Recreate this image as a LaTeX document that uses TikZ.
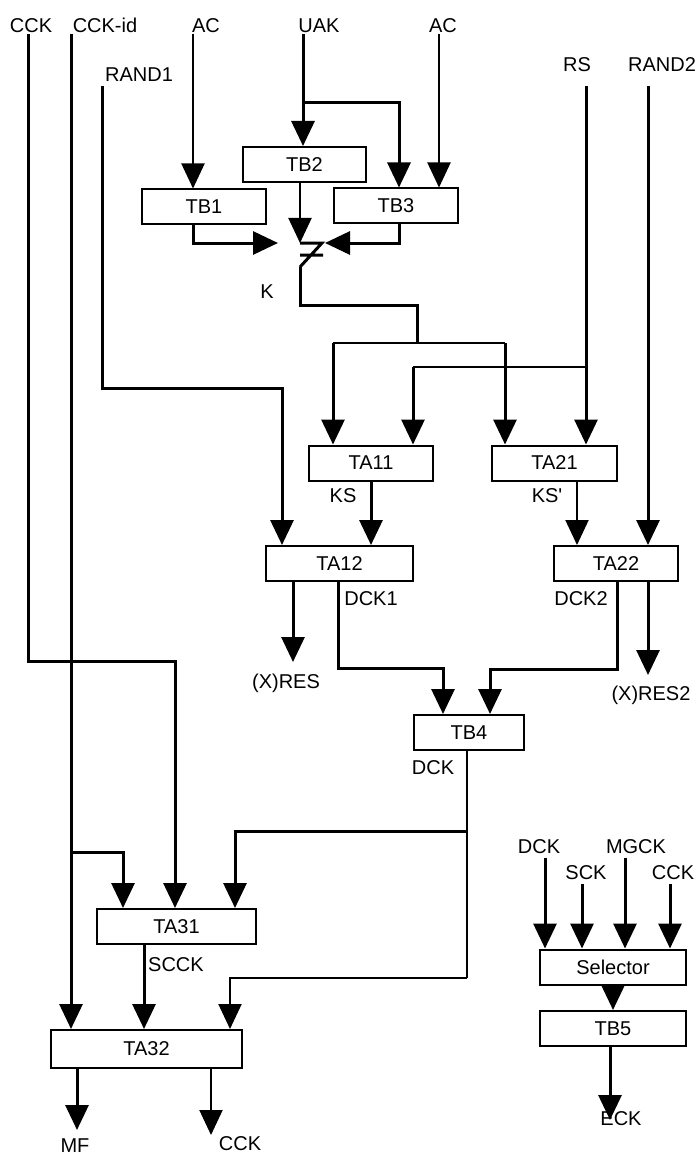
\documentclass[tikz,border=0pt]{standalone}
\usepackage{fontspec}
\setmainfont{Liberation Sans}
\usetikzlibrary{arrows.meta}
\begin{document}
\begin{tikzpicture}[x=0.5pt,y=-0.5pt,font=\fontsize{10}{12}\selectfont,
  blk/.style={draw,line width=1pt,inner sep=0pt,minimum height=17.5pt,minimum width=62pt},
  lbl/.style={inner sep=0pt,anchor=base},
  thk/.style={line width=1.5pt},
  thn/.style={line width=1pt},
  arr/.style={-{Triangle[length=12.5pt,width=11.5pt]}}]
  \useasboundingbox (0,0) rectangle (698,1155);
  % boxes
  \node[blk] (tb1) at (204,207) {TB1};
  \node[blk,minimum width=61.5pt] (tb2) at (304.5,164.5) {TB2};
  \node[blk] (tb3) at (396,206) {TB3};
  \node[blk] (ta11) at (371,463) {TA11};
  \node[blk,minimum width=62.5pt] (ta21) at (554.5,463) {TA21};
  \node[blk,minimum width=73.5pt] (ta12) at (339.5,563.5) {TA12};
  \node[blk] (ta22) at (616,563.5) {TA22};
  \node[blk,minimum width=55pt] (tb4) at (469,732.5) {TB4};
  \node[blk,minimum width=79.5pt] (ta31) at (176.5,926.5) {TA31};
  \node[blk,minimum width=95.5pt,minimum height=19pt] (ta32) at (146.5,1049) {TA32};
  \node[blk,minimum width=73pt] (sel) at (613,967) {Selector};
  \node[blk,minimum width=73pt] (tb5) at (613,1028.5) {TB5};
  % labels
  \node[lbl] (inCCK) at (31,33) {CCK};
  \node[lbl] (inCCKid) at (105,33) {CCK-id};
  \node[lbl] (inACa) at (206,33) {AC};
  \node[lbl] (inUAK) at (319,33) {UAK};
  \node[lbl] (inACb) at (443,33) {AC};
  \node[lbl] (inRAND1) at (139,82) {RAND1};
  \node[lbl] (inRS) at (577,72) {RS};
  \node[lbl] (inRAND2) at (662,72) {RAND2};
  \node[lbl] (lblK) at (267,298) {K};
  \node[lbl] (lblKS) at (343,502) {KS};
  \node[lbl] (lblKSp) at (547,502) {KS\textquotesingle};
  \node[lbl] (lblDCKa) at (371,605) {DCK1};
  \node[lbl] (lblDCKb) at (581,605) {DCK2};
  \node[lbl] (outRES) at (286,688) {(X)RES};
  \node[lbl] (outRESb) at (651,700) {(X)RES2};
  \node[lbl] (lblDCK) at (433,774) {DCK};
  \node[lbl] (lblSCCK) at (176,971) {SCCK};
  \node[lbl] (outMF) at (75,1152) {MF};
  \node[lbl] (outCCK) at (240,1150) {CCK};
  \node[lbl] (outECK) at (621,1125) {ECK};
  % inputs at the top
  \coordinate (cck0) at (28,34);    \coordinate (cckid0) at (71,34);
  \coordinate (rand10) at (102,86); \coordinate (acA0) at (193,34);
  \coordinate (uak0) at (303,34);   \coordinate (acB0) at (439,34);
  \coordinate (rs0) at (586,86);    \coordinate (rand20) at (648,86);
  \coordinate (cckbend) at (175,661);
  \draw[thk,arr] (cck0) |- (cckbend) -- (cckbend |- ta31.north);
  \draw[thk,arr] (cckid0) -- (cckid0 |- ta32.north);
  \coordinate (idtap) at (71,852); \coordinate (idbend) at (123,852);
  \draw[thk,arr] (idtap) -- (idbend) -- (idbend |- ta31.north);
  \coordinate (r1bend) at (282,388);
  \draw[thk,arr] (rand10) |- (r1bend) -- (r1bend |- ta12.north);
  \draw[thn,arr] (acA0) -- (acA0 |- tb1.north);
  \draw[thk,arr] (uak0) -- (uak0 |- tb2.north);
  \coordinate (uaktap) at (303,103); \coordinate (uakbend) at (399,103);
  \draw[thk,arr] (uaktap) -- (uakbend) -- (uakbend |- tb3.north);
  \draw[thn,arr] (acB0) -- (acB0 |- tb3.north);
  % key mixing
  \coordinate (mix) at (300,243); \coordinate (mixL) at (278,243);
  \coordinate (mixR) at (325,243); \coordinate (zbot) at (300,267);
  \draw[thk,arr] (tb1.south -| acA0) |- (mixL);
  \draw[thn,arr] (tb2.south -| mix) -- (mix);
  \draw[thk,arr] (tb3.south -| uakbend) |- (mixR);
  \draw[thk] (mix) -- ++(22,0) -- (zbot) (300,255) -- (323,255);
  \coordinate (kbus) at (417,343); \coordinate (kL) at (333,343); \coordinate (kR) at (505,343);
  \draw[thk] (zbot) -- ++(0,38) -| (kbus);
  \draw[thn] (kL) -- (kR);
  \draw[thk,arr] (kL) -- (kL |- ta11.north);
  \draw[thk,arr] (kR) -- (kR |- ta21.north);
  \draw[thk,arr] (rs0) -- (rs0 |- ta21.north);
  \coordinate (rstap) at (586,367); \coordinate (rsbend) at (413,367);
  \draw[thn] (rstap) -- (rsbend);
  \draw[thk,arr] (rsbend) -- (rsbend |- ta11.north);
  \draw[thk,arr] (rand20) -- (rand20 |- ta22.north);
  % second stage
  \draw[thk,arr] (ta11.south) -- (ta11.south |- ta12.north);
  \coordinate (ks2) at (577,480);
  \draw[thn,arr] (ks2 |- ta21.south) -- (ks2 |- ta22.north);
  \coordinate (res1) at (293,662); \coordinate (res2) at (648,675);
  \draw[thk,arr] (res1 |- ta12.south) -- (res1);
  \draw[thk,arr] (res2 |- ta22.south) -- (res2);
  \coordinate (d1) at (338,668); \coordinate (d1in) at (443,668);
  \coordinate (d2) at (617,669); \coordinate (d2in) at (490,669);
  \draw[thk,arr] (d1 |- ta12.south) -- (d1) -- (d1in) -- (d1in |- tb4.north);
  \draw[thk,arr] (d2 |- ta22.south) -- (d2) -- (d2in) -- (d2in |- tb4.north);
  % DCK to TA31 / TA32
  \coordinate (dtap) at (467,831); \coordinate (dend) at (467,978);
  \coordinate (d31) at (235,831); \coordinate (d32) at (230,978);
  \draw[thn] (tb4.south -| dtap) -- (dend);
  \draw[thk,arr] (dtap) -- (d31) -- (d31 |- ta31.north);
  \draw[thn,arr] (dend) -- (d32) -- (d32 |- ta32.north);
  \coordinate (sc) at (144,944);
  \draw[thk,arr] (sc |- ta31.south) -- (sc |- ta32.north);
  \coordinate (mf) at (77,1130); \coordinate (cckout) at (211,1135);
  \draw[thk,arr] (mf |- ta32.south) -- (mf);
  \draw[thn,arr] (cckout |- ta32.south) -- (cckout);
  % selector
  \foreach \t/\x/\bx/\y [count=\i] in {DCK/539/545/853,SCK/586/582/879,MGCK/636/625/853,CCK/673/670/879}{
    \node[lbl] (sin\i) at (\x,\y) {\t};
    \coordinate (s\i) at (\bx,\y+5);
    \draw[thk,arr] (s\i) -- (s\i |- sel.north);
  }
  \draw[thk,arr] (sel.south) -- (tb5.north);
  \coordinate (eck) at (610,1120);
  \draw[thk,arr] (eck |- tb5.south) -- (eck);
\end{tikzpicture}
\end{document}
